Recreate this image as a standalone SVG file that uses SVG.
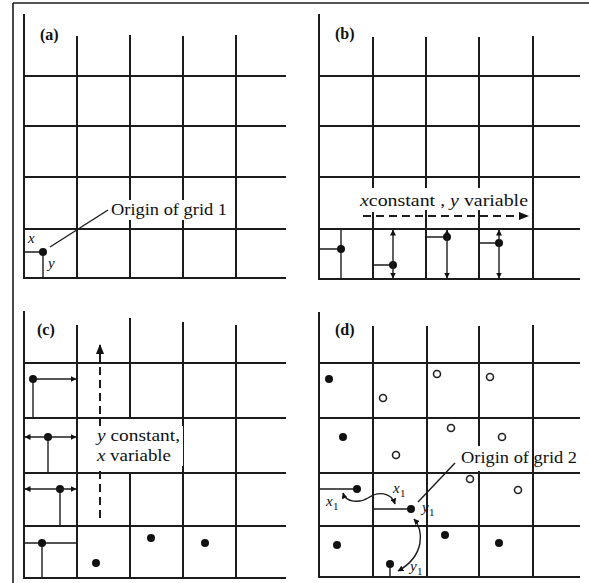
<svg xmlns="http://www.w3.org/2000/svg" width="589" height="583" viewBox="0 0 589 583">
<style>
.g{stroke:#1c1c1c;stroke-width:2;fill:none;stroke-linecap:square}
.t{stroke:#1c1c1c;stroke-width:1.4;fill:none}
.d{stroke:#1c1c1c;stroke-width:2;fill:none;stroke-dasharray:8 5}
.dot{fill:#111}
.oc{fill:#fff;stroke:#222;stroke-width:1.6}
.lab{font-family:"Liberation Serif","Times New Roman",serif;font-weight:bold;font-size:16px;fill:#111}
.txt{font-family:"Liberation Serif","Times New Roman",serif;font-size:17px;fill:#111}
.it{font-style:italic}
.sm{font-family:"Liberation Serif","Times New Roman",serif;font-style:italic;font-size:15px;fill:#111}
.sub{font-family:"Liberation Serif","Times New Roman",serif;font-size:11px;fill:#111}
</style>
<defs>
<marker id="ah" markerUnits="userSpaceOnUse" markerWidth="6" markerHeight="6" refX="5.5" refY="3" orient="auto-start-reverse"><path d="M0,0 L6,3 L0,6 z" fill="#111"/></marker>
<marker id="ahd" markerUnits="userSpaceOnUse" markerWidth="10" markerHeight="8" refX="9" refY="4" orient="auto-start-reverse"><path d="M0,0 L10,4 L0,8 z" fill="#111"/></marker>
</defs>
<rect width="589" height="583" fill="#fff"/>
<path class="t" d="M13,3 H589 M13,3 V583" style="stroke-width:1.6"/>

<g id="panel-a">
<path class="g" d="M24,15 V278 H285 M24,76 H285 M24,126 H285 M24,177 H285 M24,229 H285 M77,37 V278 M130,36 V199 M130,221 V278 M183,37 V199 M183,221 V278 M236,36 V278"/>
<text class="lab" x="40" y="40">(a)</text>
<path class="t" d="M24,252 H43 V278"/>
<circle class="dot" cx="43" cy="252" r="4"/>
<text class="sm" x="28" y="243">x</text>
<text class="sm" x="48" y="268">y</text>
<text class="txt" x="111" y="215" textLength="116" lengthAdjust="spacingAndGlyphs">Origin of grid 1</text>
</g>

<g id="panel-b">
<path class="g" d="M319,15 V279 H579 M319,76 H579 M319,126 H579 M319,177 H579 M319,229 H579 M373,38 V187 M373,213 V279 M426,38 V187 M426,211 V279 M479,38 V187 M479,211 V279 M533,37 V279"/>
<text class="lab" x="335" y="39">(b)</text>
<text class="txt" x="360" y="206" textLength="168" lengthAdjust="spacingAndGlyphs"><tspan class="it">x</tspan>constant , <tspan class="it">y</tspan> variable</text>
<path class="t" d="M319,249 H341 M341,229 V279 M373,265 H393 M426,237 H447 M479,243 H499"/>
<circle class="dot" cx="341" cy="249" r="4"/>
<circle class="dot" cx="393" cy="265" r="4"/>
<circle class="dot" cx="447" cy="237" r="4"/>
<circle class="dot" cx="499" cy="243" r="4"/>
</g>

<g id="panel-c">
<path class="g" d="M24,312 V578 H285 M24,363 H285 M24,418 H285 M24,473 H285 M24,526 H285 M77,326 V578 M130,319 V418 M130,473 V578 M183,323 V578 M236,326 V578"/>
<text class="lab" x="37" y="335">(c)</text>
<path class="t" d="M33,379 V418 M48,437 V473 M60,489 V526 M24,543 H77 M42,543 V578"/>
<circle class="dot" cx="33" cy="379" r="4"/>
<circle class="dot" cx="48" cy="437" r="4"/>
<circle class="dot" cx="60" cy="489" r="4"/>
<circle class="dot" cx="42" cy="543" r="4"/>
<circle class="dot" cx="96" cy="563" r="4"/>
<circle class="dot" cx="151" cy="538" r="4"/>
<circle class="dot" cx="205" cy="543" r="4"/>
</g>

<g id="panel-d">
<path class="g" d="M319,313 V577 H579 M319,363 H579 M319,418 H579 M319,473 H579 M319,526 H579 M373,327 V577 M427,327 V577 M479,327 V445 M479,472 V577 M533,326 V577"/>
<text class="lab" x="335" y="335">(d)</text>
<path class="t" d="M319,489 H357 M373,509 H411 M390,564 V577"/>
<circle class="dot" cx="329" cy="379" r="4"/>
<circle class="dot" cx="343" cy="437" r="4"/>
<circle class="dot" cx="357" cy="489" r="4"/>
<circle class="dot" cx="411" cy="509" r="4"/>
<circle class="dot" cx="337" cy="545" r="4"/>
<circle class="dot" cx="390" cy="564" r="4"/>
<circle class="dot" cx="445" cy="535" r="4"/>
<circle class="dot" cx="499" cy="543" r="4"/>
<circle class="oc" cx="437" cy="374" r="3.5"/>
<circle class="oc" cx="490" cy="377" r="3.5"/>
<circle class="oc" cx="383" cy="398" r="3.5"/>
<circle class="oc" cx="451" cy="428" r="3.5"/>
<circle class="oc" cx="502" cy="437" r="3.5"/>
<circle class="oc" cx="396" cy="455" r="3.5"/>
<circle class="oc" cx="470" cy="479" r="3.5"/>
<circle class="oc" cx="518" cy="490" r="3.5"/>
<text class="txt" x="461" y="463" textLength="116" lengthAdjust="spacingAndGlyphs">Origin of grid 2</text>
<text class="sm" x="326" y="506">x</text><text class="sub" x="333" y="510">1</text>
<text class="sm" x="393" y="493">x</text><text class="sub" x="400" y="497">1</text>
<text class="sm" x="422" y="512">y</text><text class="sub" x="429" y="516">1</text>
<text class="sm" x="410" y="571">y</text><text class="sub" x="417" y="575">1</text>
</g>

<g id="connectors">
<line class="t" x1="50" y1="247" x2="108" y2="210"/>
<line class="t" x1="418" y1="502" x2="455" y2="463"/>
<line class="d" x1="363" y1="216" x2="528" y2="216" marker-end="url(#ahd)"/>
<line class="d" x1="100" y1="518" x2="100" y2="345" marker-end="url(#ahd)"/>
<line class="t" x1="393" y1="230" x2="393" y2="278" marker-start="url(#ah)" marker-end="url(#ah)"/>
<line class="t" x1="447" y1="230" x2="447" y2="278" marker-start="url(#ah)" marker-end="url(#ah)"/>
<line class="t" x1="499" y1="230" x2="499" y2="278" marker-start="url(#ah)" marker-end="url(#ah)"/>
<line class="t" x1="33" y1="379" x2="76" y2="379" marker-end="url(#ah)"/>
<line class="t" x1="25" y1="437" x2="76" y2="437" marker-start="url(#ah)" marker-end="url(#ah)"/>
<line class="t" x1="25" y1="489" x2="76" y2="489" marker-start="url(#ah)" marker-end="url(#ah)"/>
<path class="t" d="M343,493 C346,503 360,503 368,498 C378,491 391,492 395,504" marker-start="url(#ah)" marker-end="url(#ah)"/>
<path class="t" d="M414,519 C424,530 425,556 398,571" marker-start="url(#ah)" marker-end="url(#ah)"/>
</g>

<g id="label-c">
<rect x="95" y="426" width="88" height="40" fill="#fff"/>
<text class="txt" x="97" y="441" textLength="83" lengthAdjust="spacingAndGlyphs"><tspan class="it">y</tspan> constant,</text>
<text class="txt" x="97" y="461" textLength="74" lengthAdjust="spacingAndGlyphs"><tspan class="it">x</tspan> variable</text>
</g>
</svg>
